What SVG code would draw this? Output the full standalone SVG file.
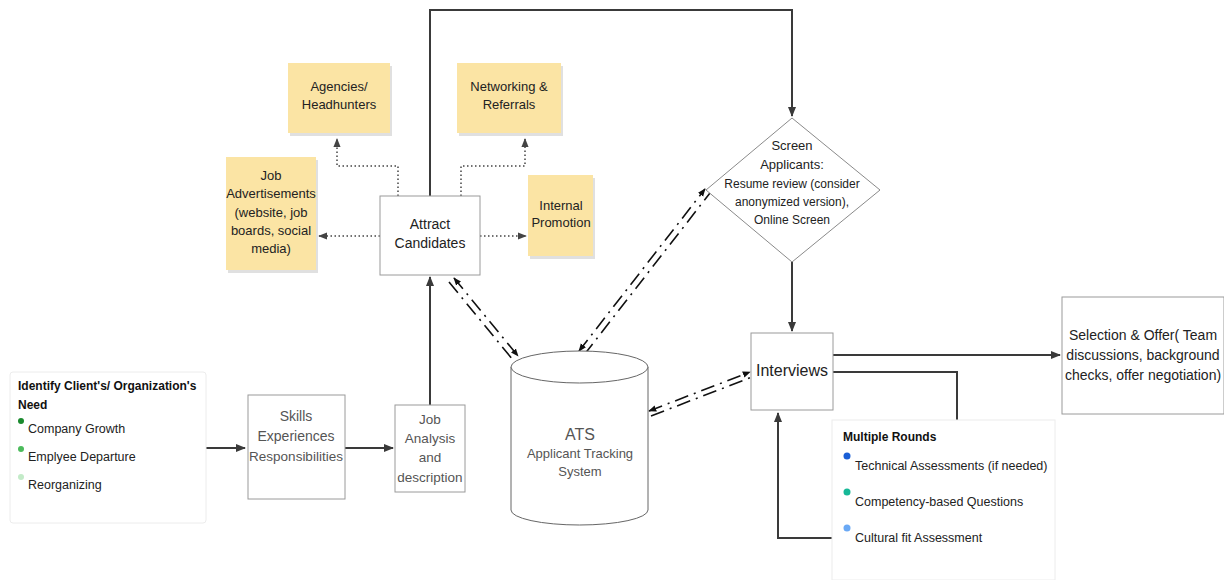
<svg xmlns="http://www.w3.org/2000/svg" width="1224" height="580" viewBox="0 0 1224 580">
<style>
text{font-family:"Liberation Sans",Arial,sans-serif;}
.box{fill:#fff;stroke:#9a9a9a;stroke-width:1;}
.faint{fill:#fff;stroke:#ececec;stroke-width:1;}
.sticky{fill:#fbe4a4;}
.shadow{fill:#000;opacity:0.12;}
.t{font-size:14px;fill:#222;text-anchor:middle;}
.tg{font-size:14px;fill:#555;text-anchor:middle;}
.s{font-size:12.5px;fill:#222;}
.b{font-size:12px;fill:#111;font-weight:bold;}
.ln{fill:none;stroke:#3a3a3a;stroke-width:2;}
.dot{fill:none;stroke:#444;stroke-width:1.5;stroke-dasharray:1.5 2.5;}
.dd{fill:none;stroke:#111;stroke-width:1.6;stroke-dasharray:14 6 2 6;}
</style>
<defs>
<marker id="ah" viewBox="0 0 10 10" refX="9" refY="5" markerWidth="5" markerHeight="5" orient="auto-start-reverse">
<path d="M0,1 L10,5 L0,9 z" fill="#3a3a3a"/>
</marker>
<marker id="ad" viewBox="0 0 10 10" refX="9" refY="5" markerWidth="6" markerHeight="6" orient="auto-start-reverse">
<path d="M0,1 L10,5 L0,9 z" fill="#444"/>
</marker>
<marker id="ak" viewBox="0 0 10 10" refX="9" refY="5" markerWidth="5" markerHeight="5" orient="auto-start-reverse">
<path d="M0,1 L10,5 L0,9 z" fill="#111"/>
</marker>
</defs>

<g id="connectors">
<path class="ln" d="M206,448 L245,448" marker-end="url(#ah)"/>
<path class="ln" d="M345,448 L393,448" marker-end="url(#ah)"/>
<path class="ln" d="M430,405 L430,277" marker-end="url(#ah)"/>
<path class="ln" d="M430,196 L430,10 L792,10 L792,116" marker-end="url(#ah)"/>
<path class="ln" d="M792,262 L792,331" marker-end="url(#ah)"/>
<path class="ln" d="M833,355 L1060,355" marker-end="url(#ah)"/>
<path class="ln" d="M833,372 L957,372 L957,420"/>
<path class="ln" d="M832,538 L778,538 L778,413" marker-end="url(#ah)"/>
<path class="dot" d="M398,196 L398,166 L337,166 L337,139" marker-end="url(#ad)"/>
<path class="dot" d="M461,196 L461,166 L525,166 L525,139" marker-end="url(#ad)"/>
<path class="dot" d="M380,236 L319,236" marker-end="url(#ad)"/>
<path class="dot" d="M480,236 L526,236" marker-end="url(#ad)"/>
<path class="dd" d="M454,278 L518,356" marker-start="url(#ak)" marker-end="url(#ak)"/>
<path class="dd" d="M449,282 L513,360"/>
<path class="dd" d="M579,351 L705,189" marker-start="url(#ak)" marker-end="url(#ak)"/>
<path class="dd" d="M584,355 L710,193"/>
<path class="dd" d="M649,411 L750,372" marker-start="url(#ak)" marker-end="url(#ak)"/>
<path class="dd" d="M651,416 L752,377"/>
</g>

<g id="identify-need">
<rect class="faint" x="10" y="372" width="196" height="151" rx="3"/>
<text class="b" x="18" y="390">Identify Client's/ Organization's</text>
<text class="b" x="18" y="409">Need</text>
<circle cx="21" cy="421" r="3" fill="#1a8a2e"/>
<text class="s" x="28" y="433">Company Growth</text>
<circle cx="21" cy="449" r="3" fill="#4cbb5c"/>
<text class="s" x="28" y="461">Emplyee Departure</text>
<circle cx="21" cy="477" r="3" fill="#c3ebc8"/>
<text class="s" x="28" y="489">Reorganizing</text>
</g>

<g id="skills">
<rect class="box" x="248" y="395" width="97" height="104"/>
<text class="tg" x="296" y="421">Skills</text>
<text class="tg" x="296" y="441">Experiences</text>
<text class="tg" x="296" y="461" style="font-size:13.5px">Responsibilities</text>
</g>

<g id="job-analysis">
<rect class="box" x="395" y="405" width="70" height="87"/>
<text class="tg" x="430" y="424" style="font-size:13.5px">Job</text>
<text class="tg" x="430" y="443" style="font-size:13.5px">Analysis</text>
<text class="tg" x="430" y="462" style="font-size:13.5px">and</text>
<text class="tg" x="430" y="482" style="font-size:13.5px">description</text>
</g>

<g id="attract">
<rect class="box" x="380" y="196" width="100" height="79"/>
<text class="t" x="430" y="229">Attract</text>
<text class="t" x="430" y="248">Candidates</text>
</g>

<g id="agencies">
<rect class="shadow" x="290" y="66" width="102" height="70"/>
<rect class="sticky" x="288" y="63" width="102" height="70"/>
<text class="t" x="339" y="91" style="font-size:13px">Agencies/</text>
<text class="t" x="339" y="109" style="font-size:13px">Headhunters</text>
</g>

<g id="networking">
<rect class="shadow" x="459" y="66" width="104" height="70"/>
<rect class="sticky" x="457" y="63" width="104" height="70"/>
<text class="t" x="509" y="91" style="font-size:13px">Networking &amp;</text>
<text class="t" x="509" y="109" style="font-size:13px">Referrals</text>
</g>

<g id="job-ads">
<rect class="shadow" x="228" y="160" width="90" height="113"/>
<rect class="sticky" x="226" y="157" width="90" height="113"/>
<text class="t" x="271" y="180" style="font-size:13px">Job</text>
<text class="t" x="271" y="198" style="font-size:13px">Advertisements</text>
<text class="t" x="271" y="217" style="font-size:13px">(website, job</text>
<text class="t" x="271" y="235" style="font-size:13px">boards, social</text>
<text class="t" x="271" y="253" style="font-size:13px">media)</text>
</g>

<g id="internal">
<rect class="shadow" x="530" y="178" width="65" height="81"/>
<rect class="sticky" x="528" y="175" width="65" height="81"/>
<text class="t" x="561" y="210" style="font-size:13px">Internal</text>
<text class="t" x="561" y="227" style="font-size:13px">Promotion</text>
</g>

<g id="screen">
<path d="M792,118 L880,190 L792,262 L706,190 Z" fill="#fff" stroke="#8a8a8a" stroke-width="1"/>
<text class="t" x="792" y="150" style="font-size:13px">Screen</text>
<text class="t" x="792" y="169" style="font-size:13px">Applicants:</text>
<text class="t" x="792" y="188" style="font-size:12px">Resume review (consider</text>
<text class="t" x="792" y="206" style="font-size:12px">anonymized version),</text>
<text class="t" x="792" y="224" style="font-size:12px">Online Screen</text>
</g>

<g id="ats">
<path d="M511,367 L511,510 A68.5,15 0 0 0 648,510 L648,367" fill="#fff" stroke="#666" stroke-width="1"/>
<ellipse cx="579.5" cy="367" rx="68.5" ry="16" fill="#fff" stroke="#666" stroke-width="1"/>
<text class="tg" x="580" y="440" style="font-size:16px">ATS</text>
<text class="tg" x="580" y="458" style="font-size:13px">Applicant Tracking</text>
<text class="tg" x="580" y="476" style="font-size:13px">System</text>
</g>

<g id="interviews">
<rect class="box" x="751" y="333" width="82" height="77"/>
<text class="t" x="792" y="376" style="font-size:16px">Interviews</text>
</g>

<g id="selection">
<rect class="box" x="1062" y="297" width="162" height="117"/>
<text class="t" x="1143" y="340">Selection &amp; Offer( Team</text>
<text class="t" x="1143" y="360">discussions, background</text>
<text class="t" x="1143" y="380">checks, offer negotiation)</text>
</g>

<g id="multiple-rounds">
<rect class="faint" x="832" y="420" width="223" height="160"/>
<text class="b" x="843" y="441">Multiple Rounds</text>
<circle cx="847" cy="456" r="3.5" fill="#1a5fd6"/>
<text class="s" x="855" y="470">Technical Assessments (if needed)</text>
<circle cx="847" cy="492" r="3.5" fill="#17b897"/>
<text class="s" x="855" y="506">Competency-based Questions</text>
<circle cx="847" cy="528" r="3.5" fill="#6aa9f5"/>
<text class="s" x="855" y="542">Cultural fit Assessment</text>
</g>
</svg>
